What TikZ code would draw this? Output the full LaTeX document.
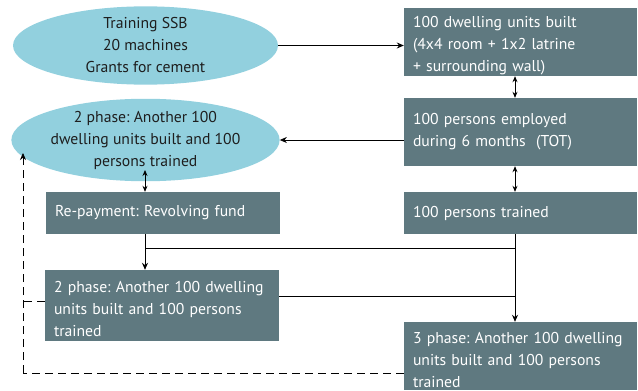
\documentclass[tikz,border=0pt]{standalone}
\usepackage{fontspec}
\setmainfont{PT Sans}
\frenchspacing
\usetikzlibrary{shapes.geometric,arrows.meta}
\definecolor{ellfill}{RGB}{146,208,222}
\definecolor{boxfill}{RGB}{95,121,128}
\definecolor{txt}{RGB}{30,30,30}
\newcommand{\topstrut}{\rule{0pt}{18.5pt}}
\begin{document}
\begin{tikzpicture}[x=1pt,y=-1pt,
  ell/.style={ellipse,fill=ellfill,minimum width=265pt,minimum height=75pt,inner sep=0pt,align=center,text=txt,font=\fontsize{15.7}{22}\selectfont},
  sbox/.style={fill=boxfill,text=white,inner xsep=9pt,inner ysep=0pt,align=left,font=\fontsize{15.7}{22}\selectfont},
  conn/.style={line width=0.8pt,black},
  arr/.style={conn,-{Stealth[length=7pt,width=6pt]}},
  darr/.style={conn,{Stealth[length=6pt,width=5pt]}-{Stealth[length=6pt,width=5pt]}},
  dline/.style={conn,dash pattern=on 8pt off 5pt}
]
\useasboundingbox (0,0) rectangle (638,391);
\node[ell] (e1) at (145.5,45.5) {Training SSB\\20 machines\\Grants for cement};
\node[ell,minimum height=76pt] (e2) at (145.5,140) {2 phase: Another 100\\dwelling units built and 100\\persons trained};
\node[sbox,text width=215pt,minimum height=68pt] (b1) at (520.5,42) {\topstrut 100 dwelling units built\\(4x4 room + 1x2 latrine\\+ surrounding wall)};
\node[sbox,text width=215pt,minimum height=68pt] (b2) at (520.5,132) {100 persons employed\\during 6 months\ \ (TOT)};
\node[sbox,text width=215pt,minimum height=42pt] (b3) at (520.5,213) {100 persons trained};
\node[sbox,text width=215pt,minimum height=68pt] (b4) at (520.5,356) {\topstrut 3 phase: Another 100 dwelling\\units built and 100 persons\\trained};
\node[sbox,text width=216pt,minimum height=42pt] (rp) at (163,213) {Re-payment: Revolving fund};
\node[sbox,text width=216pt,minimum height=71pt] (l2) at (162,305.5) {\topstrut 2 phase: Another 100 dwelling\\units built and 100 persons\\trained};
\coordinate (cr) at (515,0);
\coordinate (cl) at (145,0);
\coordinate (j1) at (145,248);
\coordinate (j2) at (515,248);
\coordinate (j3) at (515,296);
\coordinate (dt) at (23,153);
\coordinate (dk) at (23,373);
\coordinate (dm) at (23,301);
\draw[arr] (e1.east) -- (e1.east -| b1.west);
\draw[arr] (e2.east -| b2.west) -- (e2.east);
\draw[darr] (b1.south -| cr) -- (b2.north -| cr);
\draw[darr] (b2.south -| cr) -- (b3.north -| cr);
\draw[darr] (145,170) -- (rp.north -| cl);
\draw[arr] (rp.south -| cl) -- (l2.north -| cl);
\draw[conn] (j1) -- (j2);
\draw[arr] (b3.south -| cr) -- (b4.north -| cr);
\draw[conn] (l2.east |- j3) -- (j3);
\draw[dline] (dk -| b4.west) -- (dk);
\draw[dline,-{Stealth[length=7pt,width=6pt]}] (dk) -- (dt);
\draw[dline] (dm -| l2.west) -- (dm);
\end{tikzpicture}
\end{document}
